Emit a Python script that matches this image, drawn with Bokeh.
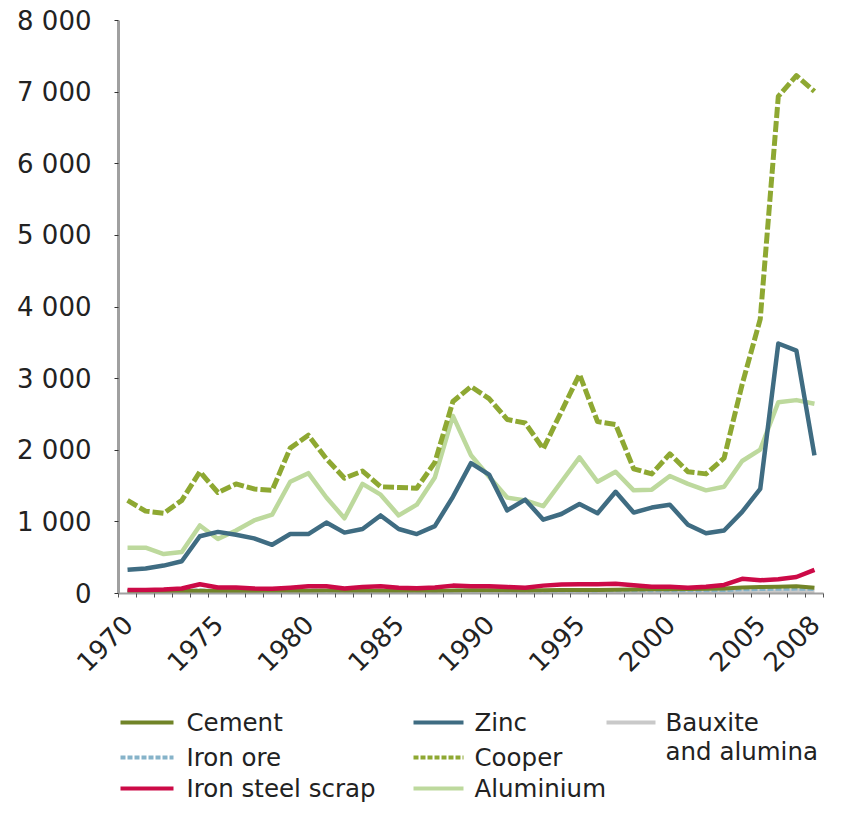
import math
from bokeh.plotting import figure
from bokeh.models import Range1d, FixedTicker, ColumnDataSource
from bokeh.layouts import column
from bokeh.embed import file_html
from bokeh.resources import INLINE
from bokeh.core.properties import value

# ---------------- data ----------------
years = list(range(1970, 2009))

cement = [30, 30, 32, 35, 40, 35, 35, 35, 38, 40, 40, 42, 40, 40, 40, 38, 38, 40, 42, 45,
          45, 45, 42, 45, 48, 50, 50, 52, 55, 58, 60, 62, 65, 70, 85, 90, 95, 100, 80]
iron_ore = [35, 35, 35, 38, 45, 40, 38, 38, 36, 40, 42, 40, 36, 36, 38, 38, 36, 36, 40, 42,
            42, 40, 38, 36, 38, 40, 40, 42, 42, 40, 42, 42, 42, 45, 55, 60, 62, 65, 60]
iron_steel_scrap = [50, 50, 55, 70, 130, 85, 85, 70, 65, 80, 100, 100, 70, 90, 100, 80, 75, 85, 110, 100,
                    100, 90, 80, 110, 125, 130, 130, 135, 115, 95, 95, 80, 95, 120, 205, 185, 200, 230, 330]
zinc = [330, 350, 390, 450, 800, 860, 820, 770, 680, 830, 830, 990, 850, 900, 1090, 900, 830, 940, 1350, 1820,
        1660, 1160, 1310, 1030, 1110, 1250, 1120, 1420, 1130, 1200, 1240, 960, 840, 880, 1140, 1460, 3490, 3390, 1930]
cooper = [1300, 1150, 1120, 1300, 1700, 1410, 1530, 1460, 1440, 2030, 2210, 1880, 1610, 1710, 1490, 1480, 1470, 1830, 2680, 2890,
          2720, 2430, 2380, 2020, 2540, 3060, 2400, 2360, 1740, 1670, 1950, 1700, 1670, 1890, 2920, 3830, 6940, 7230, 7010]
aluminium = [640, 640, 550, 580, 950, 760, 880, 1020, 1100, 1560, 1680, 1340, 1050, 1530, 1380, 1090, 1240, 1620, 2480, 1930,
             1630, 1340, 1300, 1220, 1560, 1900, 1560, 1700, 1440, 1450, 1640, 1530, 1440, 1490, 1850, 2010, 2670, 2700, 2650]
bauxite = [18, 18, 18, 20, 22, 20, 20, 20, 20, 22, 22, 22, 20, 20, 20, 20, 20, 20, 22, 22,
           22, 22, 20, 20, 22, 22, 22, 22, 22, 22, 24, 24, 24, 25, 28, 30, 32, 34, 32]

x_tick_years = [1970, 1975, 1980, 1985, 1990, 1995, 2000, 2005, 2008]
y_ticks = [0, 1000, 2000, 3000, 4000, 5000, 6000, 7000, 8000]
y_tick_labels = ["0", "1 000", "2 000", "3 000", "4 000", "5 000", "6 000", "7 000", "8 000"]

series_names = ["Cement", "Iron ore", "Iron steel scrap", "Zinc", "Cooper", "Aluminium", "Bauxite\nand alumina"]
series_keys = ["cement", "iron_ore", "scrap", "zinc", "cooper", "aluminium", "bauxite"]
series_colors = ["#718428", "#86b3c9", "#cc0a47", "#3f6c82", "#8ea832", "#bdd99d", "#c9c9c9"]
series_dash = ["solid", "6 2", "solid", "solid", "11 3", "solid", "solid"]

FONT = "DejaVu Sans"
TXT = "#222222"

src = ColumnDataSource(dict(year=years, cement=cement, iron_ore=iron_ore, scrap=iron_steel_scrap,
                            zinc=zinc, cooper=cooper, aluminium=aluminium, bauxite=bauxite))

W = 828
H1 = 690
H2 = 114
LEFT = 118
RIGHT = 5

# ---------------- chart ----------------
p = figure(width=W, height=H1, output_backend="svg", toolbar_location=None,
           x_range=Range1d(1969.5, 2008.5), y_range=Range1d(0, 8000),
           min_border_left=LEFT, min_border_right=RIGHT, min_border_top=20, min_border_bottom=97)
p.grid.visible = False
p.outline_line_color = None

widths = {"cement": 4, "iron_ore": 3.5, "scrap": 4.5, "zinc": 4.5, "cooper": 5, "aluminium": 4.5, "bauxite": 4}
draw_order = ["bauxite", "iron_ore", "cement", "scrap", "aluminium", "zinc", "cooper"]
for key in draw_order:
    i = series_keys.index(key)
    p.line(x="year", y=key, source=src, line_color=series_colors[i], line_width=widths[key],
           line_dash=series_dash[i], line_join="round")

xa = p.xaxis[0]
xa.ticker = FixedTicker(ticks=x_tick_years, minor_ticks=[y - 0.5 for y in years] + [2008.5])
xa.major_label_orientation = math.pi / 4
xa.major_tick_in = 0
xa.major_tick_out = 0
xa.minor_tick_in = 0
xa.minor_tick_out = 4
xa.minor_tick_line_color = "#555555"
xa.axis_line_color = "#a0a0a0"
xa.axis_line_width = 2
xa.major_label_text_font = FONT
xa.major_label_text_font_size = "26px"
xa.major_label_text_color = TXT
xa.major_label_standoff = 22

ya = p.yaxis[0]
ya.ticker = FixedTicker(ticks=y_ticks)
ya.major_label_overrides = {t: l for t, l in zip(y_ticks, y_tick_labels)}
ya.major_tick_in = 0
ya.major_tick_out = 4
ya.major_tick_line_color = "#333333"
ya.minor_tick_in = 0
ya.minor_tick_out = 0
ya.axis_line_color = "#a0a0a0"
ya.axis_line_width = 3
ya.major_label_text_font = FONT
ya.major_label_text_font_size = "26px"
ya.major_label_text_color = TXT
ya.major_label_standoff = 23

# ---------------- legend (coordinates = page pixels) ----------------
leg = figure(width=W, height=H2, output_backend="svg", toolbar_location=None,
             x_range=Range1d(LEFT, W - RIGHT), y_range=Range1d(H1 + H2, H1),
             x_axis_location=None, y_axis_location=None,
             min_border_left=LEFT, min_border_right=RIGHT, min_border_top=0, min_border_bottom=0)
leg.grid.visible = False
leg.outline_line_color = None

col_sw_x0 = [120, 413, 606]
col_sw_x1 = [173, 463, 655]
col_tx_x = [186, 474, 665]
row_y = [722, 757, 788]
line_gap = 29
slots = [(0, 0), (0, 1), (0, 2), (1, 0), (1, 1), (1, 2), (2, 0)]

tx, ty, tt = [], [], []
for i, name in enumerate(series_names):
    c, r = slots[i]
    for k, part in enumerate(name.split("\n")):
        tx.append(col_tx_x[c]); ty.append(row_y[r] + k * line_gap); tt.append(part)
    leg.line(x=[col_sw_x0[c], col_sw_x1[c]], y=[row_y[r], row_y[r]], line_color=series_colors[i],
             line_width=4, line_dash=("5 2" if series_dash[i] != "solid" else "solid"))

leg.text(x=tx, y=ty, text=tt, text_font=value(FONT), text_font_size="24.5px",
         text_color=TXT, text_baseline="middle", text_align="left")

layout = column(p, leg, spacing=0)
open("out.html", "w").write(file_html(layout, INLINE))
